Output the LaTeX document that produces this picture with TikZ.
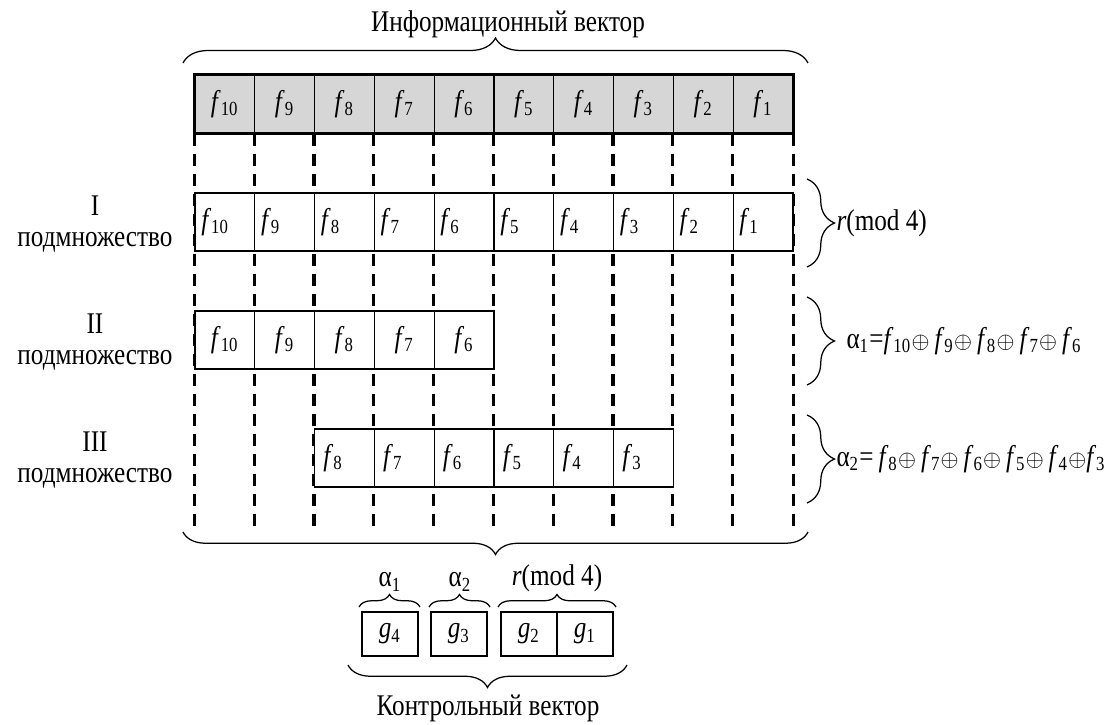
\documentclass[tikz,border=0pt]{standalone}
\usepackage{fontspec}
\setmainfont{Liberation Serif}[FakeStretch=0.84]
\usetikzlibrary{decorations.pathreplacing}

\newcommand{\fv}[1]{\textit{f}\textsubscript{#1}}
\newcommand{\gv}[1]{\textit{g}\textsubscript{#1}}
\newcommand{\av}[1]{α\textsubscript{#1}}
\newcommand{\op}{{\fontsize{9}{9}\selectfont$\oplus$}}

\tikzset{
  cellbox/.style={draw, line width=0.5pt, minimum width=23.92pt, minimum height=23.2pt, inner sep=0pt},
  infocell/.style={cellbox, fill=black!16},
  rowone/.style={cellbox, fill=white, inner xsep=2.5pt, text width=18.9pt, align=left},
  rowtwo/.style={cellbox, fill=white},
  rowthree/.style={cellbox, fill=white, inner xsep=3.5pt, text width=16.9pt, align=left},
  ctrlcell/.style={draw, line width=0.5pt, minimum width=22.4pt, minimum height=17.6pt, inner sep=0pt},
  guide/.style={line width=1.3pt, dash pattern=on 5pt off 3pt},
  curly/.style={decorate, decoration={brace, amplitude=#1}, line width=0.5pt}
}

\begin{document}
\begin{tikzpicture}[x=0.4pt, y=-0.4pt, font=\fontsize{12}{12.5}\selectfont]
\useasboundingbox (0,0) rectangle (1115,725);

% Information vector
\node (title) at (508,24) {Информационный вектор};
\draw[curly=10pt] (183,63) -- (808,63);
\foreach \k [count=\c from 0] in {10,...,1}
  \node[infocell] (t\k) at ({195+59.8*(\c+0.5)},104) {\fv{\k}};
\draw[line width=1.4pt] (t10.north west) rectangle (t1.south east);

% Column guides
\coordinate (bot) at (0,527);
\foreach \k in {10,...,1}
  \draw[guide] (t\k.south west) -- (t\k.south west |- bot);
\draw[guide] (t1.south east) -- (t1.south east |- bot);

% Subset I
\node[align=center] (s1) at (95,224) {I\\подмножество};
\foreach \k [count=\c from 0] in {10,...,1}
  \node[rowone] (a\k) at ({195+59.8*(\c+0.5)},222) {\fv{\k}};
\draw[curly=11pt] (807,179) -- (807,267);
\node[anchor=west, inner sep=0pt] (m1) at (836,223) {\textit{r}(mod 4)};

% Subset II
\node[align=center] (s2) at (95,342) {II\\подмножество};
\foreach \k [count=\c from 0] in {10,...,6}
  \node[rowtwo] (b\k) at ({195+59.8*(\c+0.5)},340) {\fv{\k}};
\draw[curly=11pt] (807,297) -- (807,385);
\node[anchor=west, inner sep=0pt] (m2) at (846,341)
  {\av{1}=\fv{10}\op\,\fv{9}\op\,\fv{8}\op\,\fv{7}\op\,\fv{6}};

% Subset III
\node[align=center] (s3) at (95,460) {III\\подмножество};
\foreach \k [count=\c from 2] in {8,...,3}
  \node[rowthree] (c\k) at ({195+59.8*(\c+0.5)},458) {\fv{\k}};
\draw[curly=11pt] (807,415) -- (807,503);
\node[anchor=west, inner sep=0pt] (m3) at (836,459)
  {\av{2}=\,\fv{8}\op\,\fv{7}\op\,\fv{6}\op\,\fv{5}\op\,\fv{4}\op\fv{3}};

% Control vector
\draw[curly=9pt] (808,532) -- (183,532);
\node[ctrlcell] (g4) at (390,634) {\gv{4}};
\node[ctrlcell] (g3) at (459,634) {\gv{3}};
\node[ctrlcell] (g2) at (529,634) {\gv{2}};
\node[ctrlcell] (g1) at (585,634) {\gv{1}};
\draw[curly=5pt] (359,607) -- (420,607);
\draw[curly=5pt] (429,607) -- (490,607);
\draw[curly=5pt] (498,607) -- (616,607);
\node (k1) at (390,582) {\av{1}};
\node (k2) at (460,582) {\av{2}};
\node (k3) at (557,578) {\textit{r}(mod 4)};
\draw[curly=9pt] (627,665) -- (348,665);
\node (ctrl) at (488,708) {Контрольный вектор};
\end{tikzpicture}
\end{document}
